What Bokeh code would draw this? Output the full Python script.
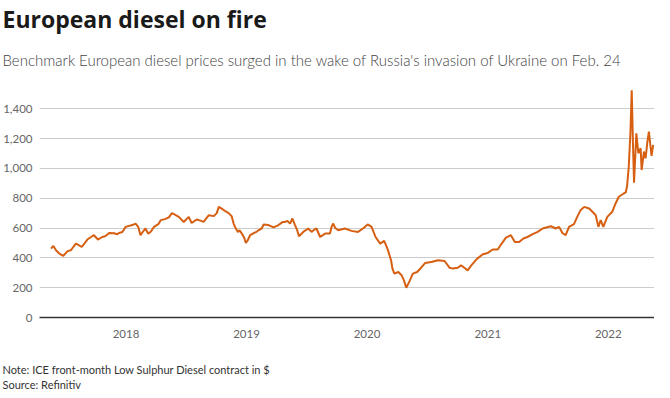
import pandas as pd
from bokeh.plotting import figure
from bokeh.models import (Title, FixedTicker, NumeralTickFormatter, DatetimeTickFormatter,
                          Range1d, ColumnDataSource)
from bokeh.embed import file_html
from bokeh.resources import INLINE

# ---- data ----
dates = [
    "2017-05-19", "2017-05-26", "2017-06-03", "2017-06-13", "2017-06-25", "2017-07-08",
    "2017-07-18", "2017-08-02", "2017-08-07", "2017-08-20", "2017-09-06", "2017-09-17",
    "2017-09-26", "2017-10-08", "2017-10-21", "2017-10-30", "2017-11-11", "2017-11-26",
    "2017-12-06", "2017-12-11", "2017-12-21", "2017-12-31",
    "2018-01-20", "2018-01-30", "2018-02-07", "2018-02-14", "2018-02-21", "2018-03-01",
    "2018-03-09", "2018-03-17", "2018-03-27", "2018-04-09", "2018-04-16", "2018-04-29",
    "2018-05-11", "2018-05-20", "2018-05-29", "2018-06-10", "2018-06-25", "2018-07-10",
    "2018-07-19", "2018-08-03", "2018-08-15", "2018-08-24", "2018-09-09", "2018-09-24",
    "2018-10-03", "2018-10-09", "2018-10-18", "2018-10-29", "2018-11-08", "2018-11-17",
    "2018-11-23", "2018-11-29", "2018-12-06", "2018-12-11", "2018-12-18", "2018-12-26",
    "2018-12-30",
    "2019-01-04", "2019-01-12", "2019-01-22", "2019-01-31", "2019-02-06", "2019-02-16",
    "2019-02-22", "2019-03-09", "2019-03-24", "2019-04-08", "2019-04-20", "2019-04-28",
    "2019-05-05", "2019-05-13", "2019-05-20", "2019-05-28", "2019-06-03", "2019-06-09",
    "2019-06-22", "2019-07-07", "2019-07-17", "2019-07-26", "2019-08-01", "2019-08-12",
    "2019-08-27", "2019-09-11", "2019-09-16", "2019-09-21", "2019-09-27", "2019-10-06",
    "2019-10-26", "2019-11-15", "2019-12-05", "2019-12-20",
    "2020-01-03", "2020-01-15", "2020-01-27", "2020-02-10", "2020-02-22", "2020-03-03",
    "2020-03-14", "2020-03-18", "2020-03-24", "2020-04-05", "2020-04-15", "2020-04-22",
    "2020-04-29", "2020-05-09", "2020-05-19", "2020-06-01", "2020-06-13", "2020-06-25",
    "2020-07-14", "2020-08-03", "2020-08-23", "2020-09-07", "2020-09-17", "2020-10-02",
    "2020-10-12", "2020-10-22", "2020-11-01", "2020-11-12", "2020-11-30", "2020-12-17",
    "2021-01-01", "2021-01-16", "2021-01-31", "2021-02-12", "2021-02-25", "2021-03-12",
    "2021-03-24", "2021-04-06", "2021-04-19", "2021-05-01", "2021-05-17", "2021-06-01",
    "2021-06-16", "2021-07-11", "2021-07-26", "2021-08-05", "2021-08-15", "2021-08-25",
    "2021-09-04", "2021-09-19", "2021-09-29", "2021-10-09", "2021-10-20", "2021-11-04",
    "2021-11-14", "2021-11-24", "2021-12-02", "2021-12-09", "2021-12-17", "2021-12-29",
    "2022-01-13", "2022-01-23", "2022-02-02", "2022-02-17", "2022-02-23", "2022-02-27",
    "2022-03-04", "2022-03-09", "2022-03-13", "2022-03-17", "2022-03-20", "2022-03-27",
    "2022-04-02", "2022-04-09", "2022-04-12", "2022-04-19", "2022-04-24", "2022-04-29",
    "2022-05-04", "2022-05-09", "2022-05-12", "2022-05-17",
]
prices = [
    462, 480, 451, 429, 413, 445,
    451, 496, 491, 473, 523, 540,
    552, 523, 540, 545, 567, 565,
    559, 567, 574, 608,
    620, 630, 608, 552, 575, 597,
    563, 575, 608, 626, 653, 660,
    672, 700, 690, 675, 641, 675,
    634, 657, 650, 641, 686, 680,
    700, 742, 730, 713, 700, 680,
    630, 600, 574, 585, 563, 530,
    500,
    515, 552, 565, 574, 585, 597,
    624, 620, 604, 620, 640, 641,
    648, 630, 664, 620, 590, 545,
    574, 597, 574, 590, 597, 540,
    563, 563, 610, 630, 600, 585,
    597, 581, 574, 597,
    624, 608, 540, 496, 514, 462,
    384, 330, 294, 305, 283, 249,
    200, 244, 294, 305, 334, 365,
    372, 384, 379, 334, 328, 334,
    350, 334, 316, 350, 395, 424,
    433, 456, 456, 496, 536, 552,
    507, 507, 530, 540, 559, 574,
    597, 612, 597, 608, 567, 552,
    608, 626, 675, 720, 742, 731,
    709, 686, 608, 653, 608, 675,
    709, 765, 810, 832, 840, 882,
    1012, 1236, 1524, 1146, 904, 1236,
    1102, 1135, 989, 1113, 1068, 1169,
    1247, 1146, 1084, 1158,
]
year_ticks = ["2018-01-01", "2019-01-01", "2020-01-01", "2021-01-01", "2022-01-01"]
y_ticks = [0, 200, 400, 600, 800, 1000, 1200, 1400]

title_text = "European diesel on fire"
subtitle_text = ("Benchmark European diesel prices surged in the wake of "
                 "Russia's invasion of Ukraine on Feb. 24")
note_text = "Note: ICE front-month Low Sulphur Diesel contract in $"
source_text = "Source: Refinitiv"

FONT = "Lato"
LINE_COLOR = "#d65f12"

src = ColumnDataSource(dict(date=pd.to_datetime(dates), price=prices))

# the top of the frame is left blank; the range end keeps the 1,400 grid line in place
p = figure(width=654, height=390, x_axis_type="datetime", output_backend="svg",
           toolbar_location=None, title=None,
           x_range=Range1d(pd.Timestamp("2017-04-14"), pd.Timestamp("2022-05-21")),
           y_range=Range1d(0, 1583))
p.outline_line_color = None
p.background_fill_color = "white"
p.border_fill_color = "white"
p.min_border_left = 37
p.min_border_right = 0
p.min_border_top = 0
p.min_border_bottom = 0

p.line("date", "price", source=src, line_color=LINE_COLOR, line_width=2)

# y axis
p.yaxis.ticker = FixedTicker(ticks=y_ticks)
p.yaxis.formatter = NumeralTickFormatter(format="0,0")
p.yaxis.axis_line_color = None
p.yaxis.major_tick_line_color = None
p.yaxis.minor_tick_line_color = None
p.yaxis.major_tick_out = 0
p.yaxis.minor_tick_out = 0
p.yaxis.major_label_text_font = FONT
p.yaxis.major_label_text_font_size = "11.5px"
p.yaxis.major_label_text_color = "#666666"
p.yaxis.major_label_standoff = 7
p.ygrid.ticker = FixedTicker(ticks=y_ticks)
p.ygrid.grid_line_color = "#cccccc"
p.ygrid.grid_line_width = 1
p.xgrid.grid_line_color = None

# x axis
tick_ms = [int(t.value // 10**6) for t in pd.to_datetime(year_ticks)]
p.xaxis.ticker = FixedTicker(ticks=tick_ms)
p.xaxis.formatter = DatetimeTickFormatter(years="%Y", months="%Y", days="%Y",
                                          hours="%Y", minutes="%Y", seconds="%Y",
                                          milliseconds="%Y", microseconds="%Y")
p.xaxis.axis_line_color = "#333333"
p.xaxis.axis_line_width = 1.5
p.xaxis.major_tick_line_color = None
p.xaxis.minor_tick_line_color = None
p.xaxis.major_tick_out = 0
p.xaxis.minor_tick_out = 0
p.xaxis.major_label_text_font = FONT
p.xaxis.major_label_text_font_size = "11.5px"
p.xaxis.major_label_text_color = "#666666"
p.xaxis.major_label_standoff = 12


def title(text, font, size, style, color, standoff, offset=-37):
    return Title(text=text, text_font=font, text_font_size=size, text_font_style=style,
                 text_color=color, align="left", offset=offset, standoff=standoff)


# above: first added sits next to the frame
p.add_layout(title(subtitle_text, "Lato Light, Lato", "15px", "normal", "#444444", 26), "above")
p.add_layout(title(title_text, "Open Sans", "23px", "bold", "#1a1a1a", 1), "above")

# below: axis, a blank spacer, then the note and the source
p.add_layout(title(" ", FONT, "11px", "normal", "#ffffff", 5), "below")
p.add_layout(title(note_text, FONT, "11px", "normal", "#333333", 0), "below")
p.add_layout(title(source_text, FONT, "11px", "normal", "#333333", 0), "below")

open("out.html", "w").write(file_html(p, INLINE))
